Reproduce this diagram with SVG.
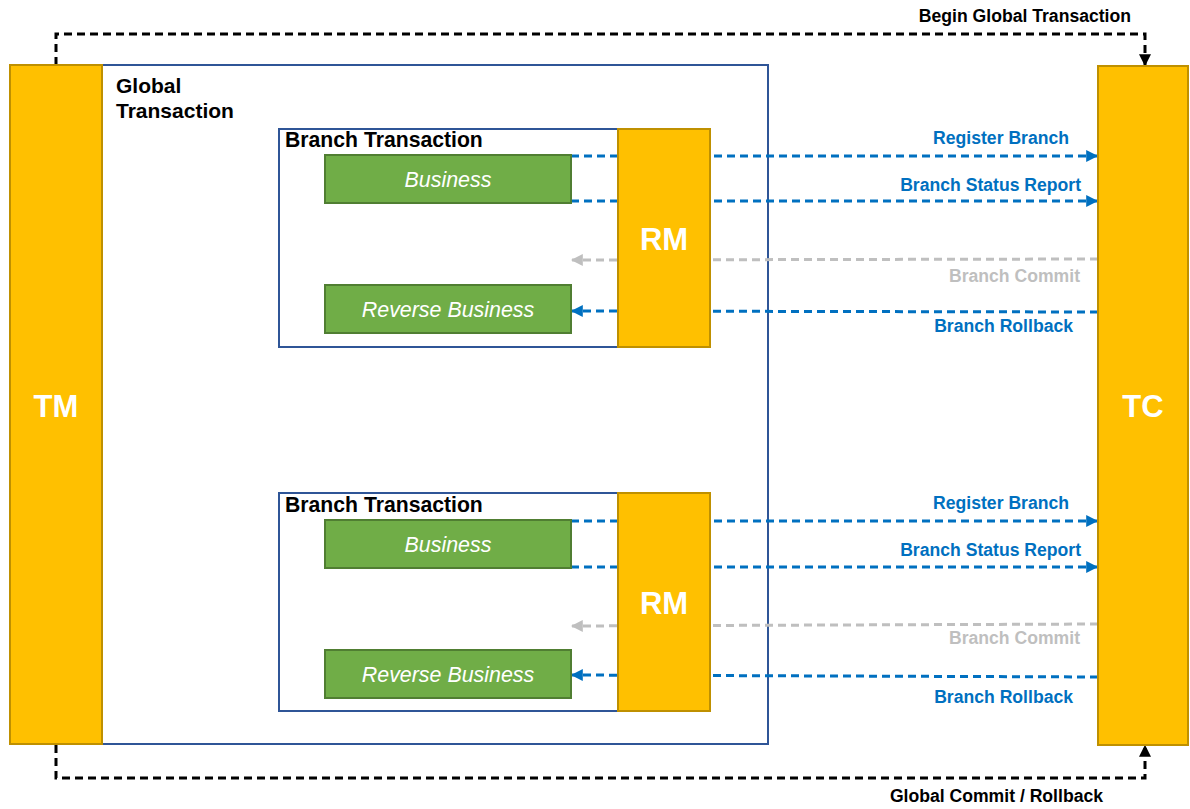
<svg xmlns="http://www.w3.org/2000/svg" width="1190" height="809" viewBox="0 0 1190 809">
<style>
.yel{fill:#FFC000;stroke:#BF9000;stroke-width:2}
.box{fill:#fff;stroke:#2F5597;stroke-width:2}
.grn{fill:#70AD47;stroke:#507E32;stroke-width:2}
.big{font-family:"Liberation Sans",Arial,sans-serif;font-weight:bold;font-size:31px;fill:#fff;text-anchor:middle}
.biz{font-family:"Liberation Sans",Arial,sans-serif;font-style:italic;font-size:21.4px;fill:#fff;text-anchor:middle}
.ttl{font-family:"Liberation Sans",Arial,sans-serif;font-weight:bold;font-size:21px;fill:#000}
.bt{font-family:"Liberation Sans",Arial,sans-serif;font-weight:bold;font-size:21.2px;fill:#000}
.lbl{font-family:"Liberation Sans",Arial,sans-serif;font-weight:bold;font-size:17.6px;text-anchor:end}
.blue{fill:#0070C0}
.gray{fill:#BFBFBF}
.blk{fill:#000}
.lb{fill:none;stroke:#0070C0;stroke-width:3;stroke-dasharray:8 5}
.lg{fill:none;stroke:#BFBFBF;stroke-width:3;stroke-dasharray:8 5}
.lk{fill:none;stroke:#000;stroke-width:3;stroke-dasharray:8 5}
</style>
<defs>
<marker id="ab" viewBox="0 0 10 10" refX="9" refY="5" markerWidth="4" markerHeight="4" orient="auto" markerUnits="strokeWidth"><path d="M0,0L10,5L0,10z" fill="#0070C0"/></marker>
<marker id="ag" viewBox="0 0 10 10" refX="9" refY="5" markerWidth="4" markerHeight="4" orient="auto" markerUnits="strokeWidth"><path d="M0,0L10,5L0,10z" fill="#BFBFBF"/></marker>
<marker id="ak" viewBox="0 0 10 10" refX="9" refY="5" markerWidth="4" markerHeight="4" orient="auto" markerUnits="strokeWidth"><path d="M0,0L10,5L0,10z" fill="#000"/></marker>
</defs>
<rect width="1190" height="809" fill="#fff"/>
<g id="global-transaction">
<rect class="box" x="102" y="65" width="666" height="679"/>
<text class="ttl" x="116" y="93">Global</text>
<text class="ttl" x="116" y="118">Transaction</text>
</g>
<g id="branch1">
<rect class="box" x="279" y="129" width="340" height="218"/>
<text class="bt" x="285" y="147">Branch Transaction</text>
</g>
<g id="branch2">
<rect class="box" x="279" y="493" width="340" height="218"/>
<text class="bt" x="285" y="512">Branch Transaction</text>
</g>
<g id="connectors">
<path class="lb" d="M571,156H1097" marker-end="url(#ab)"/>
<path class="lb" d="M571,201H1097" marker-end="url(#ab)"/>
<path class="lg" d="M1098,259L572,260" marker-end="url(#ag)"/>
<path class="lb" d="M1098,312L572,311" marker-end="url(#ab)"/>
<path class="lb" d="M571,521H1097" marker-end="url(#ab)"/>
<path class="lb" d="M571,567H1097" marker-end="url(#ab)"/>
<path class="lg" d="M1098,624L572,626" marker-end="url(#ag)"/>
<path class="lb" d="M1098,677L572,675" marker-end="url(#ab)"/>
<path class="lk" d="M56,65V34H1145V65" marker-end="url(#ak)"/>
<path class="lk" d="M56,745V778H1145V746" marker-end="url(#ak)"/>
<text class="lbl blue" x="1069" y="144">Register Branch</text>
<text class="lbl blue" x="1081" y="191">Branch Status Report</text>
<text class="lbl gray" x="1080" y="282">Branch Commit</text>
<text class="lbl blue" x="1073" y="332">Branch Rollback</text>
<text class="lbl blue" x="1069" y="509">Register Branch</text>
<text class="lbl blue" x="1081" y="556">Branch Status Report</text>
<text class="lbl gray" x="1080" y="644">Branch Commit</text>
<text class="lbl blue" x="1073" y="703">Branch Rollback</text>
<text class="lbl blk" x="1131" y="22">Begin Global Transaction</text>
<text class="lbl blk" x="1103" y="802">Global Commit / Rollback</text>
</g>
<g id="tm">
<rect class="yel" x="10" y="65" width="92" height="679"/>
<text class="big" x="56" y="417">TM</text>
</g>
<g id="tc">
<rect class="yel" x="1098" y="66" width="90" height="679"/>
<text class="big" x="1143" y="417">TC</text>
</g>
<g id="business1">
<rect class="grn" x="325" y="155" width="246" height="48"/>
<text class="biz" x="448" y="187">Business</text>
</g>
<g id="reverse1">
<rect class="grn" x="325" y="285" width="246" height="48"/>
<text class="biz" x="448" y="317">Reverse Business</text>
</g>
<g id="rm1">
<rect class="yel" x="618" y="129" width="92" height="218"/>
<text class="big" x="664" y="250">RM</text>
</g>
<g id="business2">
<rect class="grn" x="325" y="520" width="246" height="48"/>
<text class="biz" x="448" y="552">Business</text>
</g>
<g id="reverse2">
<rect class="grn" x="325" y="650" width="246" height="48"/>
<text class="biz" x="448" y="682">Reverse Business</text>
</g>
<g id="rm2">
<rect class="yel" x="618" y="493" width="92" height="218"/>
<text class="big" x="664" y="614">RM</text>
</g>
</svg>
